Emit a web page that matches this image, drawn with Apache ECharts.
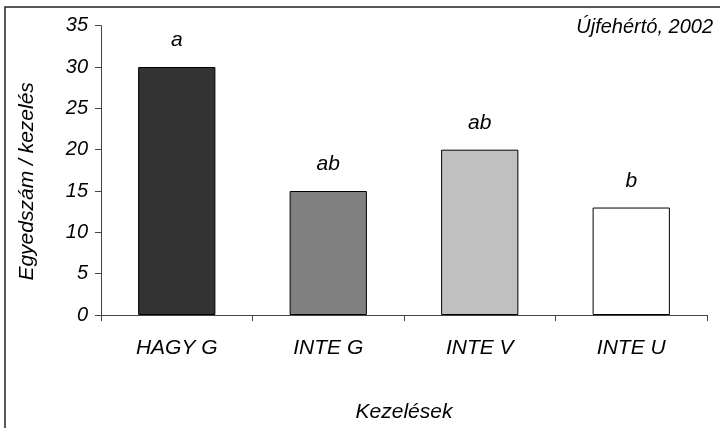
<!DOCTYPE html>
<html>
<head>
<meta charset="utf-8">
<script src="https://cdn.jsdelivr.net/npm/echarts@6/dist/echarts.min.js"></script>
<style>
  html, body { margin: 0; padding: 0; background: #fff; }
  #chart { width: 720px; height: 428px; }
</style>
</head>
<body>
<div id="chart"></div>
<script>
// Treatments and the number of individuals per treatment
const categories = ['HAGY G', 'INTE G', 'INTE V', 'INTE U'];
const values = [30, 15, 20, 13];
const letters = ['a', 'ab', 'ab', 'b'];
const barColors = ['#333333', '#808080', '#c0c0c0', '#ffffff'];

const FONT = '"Liberation Sans", Arial, sans-serif';
const chart = echarts.init(document.getElementById('chart'), null, { renderer: 'canvas' });

chart.setOption({
  animation: false,
  backgroundColor: '#ffffff',
  title: {
    text: 'Újfehértó, 2002',
    right: 2,
    top: 12,
    textStyle: { fontFamily: FONT, fontStyle: 'italic', fontWeight: 'normal', fontSize: 20, color: '#000' }
  },
  graphic: [{
    type: 'rect',
    shape: { x: 5, y: 7, width: 800, height: 500 },
    style: { fill: null, stroke: '#222', lineWidth: 1.5 },
    silent: true
  }],
  grid: { left: 101, right: 13, top: 25.7, bottom: 106, containLabel: false },
  xAxis: {
    type: 'category',
    data: categories,
    boundaryGap: true,
    name: 'Kezelések',
    nameLocation: 'middle',
    nameGap: 87,
    nameTextStyle: { fontFamily: FONT, fontStyle: 'italic', fontSize: 21, color: '#000' },
    axisLine: { lineStyle: { color: '#444', width: 1 } },
    axisTick: { show: true, length: 6, lineStyle: { color: '#444' } },
    axisLabel: { margin: 23, fontFamily: FONT, fontStyle: 'italic', fontSize: 21, color: '#000' },
    splitLine: { show: false }
  },
  yAxis: {
    type: 'value',
    min: 0,
    max: 35,
    interval: 5,
    name: 'Egyedszám / kezelés',
    nameLocation: 'middle',
    nameGap: 63,
    nameTextStyle: { fontFamily: FONT, fontStyle: 'italic', fontSize: 21, color: '#000', padding: [0, 22, 0, 0] },
    axisLine: { show: true, lineStyle: { color: '#444', width: 1 } },
    axisTick: { show: true, length: 6, lineStyle: { color: '#444' } },
    axisLabel: { margin: 13, fontFamily: FONT, fontStyle: 'italic', fontSize: 20, color: '#000' },
    splitLine: { show: false }
  },
  series: [{
    type: 'bar',
    barWidth: '51%',
    data: values.map((v, i) => ({
      value: v,
      itemStyle: { color: barColors[i], borderColor: '#000', borderWidth: 1 }
    })),
    label: {
      show: true,
      position: 'top',
      distance: 16,
      formatter: p => letters[p.dataIndex],
      fontFamily: FONT,
      fontStyle: 'italic',
      fontSize: 21,
      color: '#000'
    }
  }]
});
</script>
</body>
</html>
